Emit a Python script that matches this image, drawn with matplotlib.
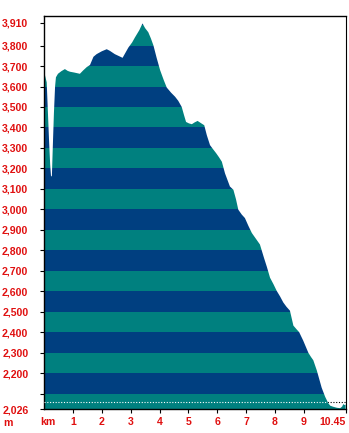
import matplotlib
matplotlib.use("Agg")
import matplotlib.pyplot as plt
from matplotlib.patches import Polygon

# profile: distance (km) and elevation (m)
km = [0.00, 0.03, 0.09, 0.13, 0.17, 0.21, 0.24, 0.27, 0.30, 0.34, 0.38, 0.41,
      0.48, 0.60, 0.72, 0.82, 0.90, 1.05, 1.24, 1.35, 1.48, 1.59, 1.71, 1.82,
      2.00, 2.17, 2.28, 2.45, 2.60, 2.72, 2.80, 2.92, 3.05, 3.15, 3.30, 3.41,
      3.50, 3.61, 3.70, 3.79, 3.90, 4.02, 4.15, 4.25, 4.40, 4.54, 4.65, 4.77,
      4.85, 4.92, 5.02, 5.12, 5.22, 5.32, 5.45, 5.55, 5.64, 5.75, 5.85, 5.96,
      6.06, 6.16, 6.27, 6.44, 6.56, 6.65, 6.73, 6.85, 6.96, 7.08, 7.20, 7.35,
      7.48, 7.62, 7.72, 7.83, 7.95, 8.06, 8.18, 8.29, 8.40, 8.52, 8.64, 8.75,
      8.84, 8.98, 9.16, 9.25, 9.33, 9.45, 9.55, 9.62, 9.74, 9.85, 9.92, 10.02,
      10.15, 10.26, 10.33, 10.37, 10.42, 10.45]
elev = [3662, 3655, 3620, 3480, 3340, 3220, 3160, 3165, 3300, 3470, 3600, 3645,
        3662, 3675, 3685, 3676, 3672, 3668, 3662, 3678, 3695, 3705, 3745, 3758,
        3772, 3782, 3774, 3758, 3748, 3740, 3760, 3790, 3815, 3840, 3875, 3908,
        3885, 3865, 3835, 3800, 3740, 3680, 3630, 3595, 3570, 3550, 3530, 3500,
        3460, 3427, 3420, 3416, 3425, 3432, 3420, 3411, 3362, 3314, 3295, 3275,
        3255, 3233, 3176, 3112, 3096, 3050, 2999, 2975, 2958, 2920, 2885, 2855,
        2829, 2764, 2720, 2667, 2635, 2603, 2575, 2546, 2525, 2506, 2433, 2415,
        2401, 2360, 2300, 2280, 2264, 2215, 2165, 2130, 2086, 2054, 2042, 2037,
        2032, 2030, 2038, 2050, 2045, 2048]

y_min, y_max = 2026, 3944
ytick_vals = [2026, 2100, 2200, 2300, 2400, 2500, 2600, 2700, 2800, 2900, 3000,
              3100, 3200, 3300, 3400, 3500, 3600, 3700, 3800, 3910]
ytick_labels = ["2,026", "", "2,200", "2,300", "2,400", "2,500", "2,600", "2,700",
                "2,800", "2,900", "3,000", "3,100", "3,200", "3,300", "3,400",
                "3,500", "3,600", "3,700", "3,800", "3,910"]
xtick_vals = [1, 2, 3, 4, 5, 6, 7, 8, 9, 10.45]
xtick_labels = ["1", "2", "3", "4", "5", "6", "7", "8", "9", "10.45"]
dotted_level = 2061

teal = "#00807f"
navy = "#003f80"
red = "#e01010"

plt.rcParams["font.family"] = ["Liberation Sans", "DejaVu Sans"]
plt.rcParams["font.weight"] = "bold"

fig = plt.figure(figsize=(3.49, 4.33), dpi=100)
ax = fig.add_axes([0.1264, 0.0554, 0.8639, 0.9076])
ax.set_xlim(0, 10.45)
ax.set_ylim(y_min, y_max)

# profile outline used as clip for the striped bands
verts = [(km[0], y_min)] + list(zip(km, elev)) + [(km[-1], y_min)]
shape = Polygon(verts, closed=True, facecolor="none", edgecolor="none")
ax.add_patch(shape)

ax.axhline(dotted_level, color="black", lw=0.8, ls=(0, (1, 1.5)), zorder=1)

for lo in range(2000, 4000, 100):
    c = teal if ((lo - 2000) // 100) % 2 == 0 else navy
    band = ax.axhspan(lo, lo + 100, color=c, lw=0, zorder=2)
    band.set_clip_path(shape)

inner = ax.axhline(dotted_level, color="white", lw=0.8, ls=(0, (1, 1.5)), zorder=3)
inner.set_clip_path(shape)

ax.set_yticks(ytick_vals)
ax.set_yticklabels(ytick_labels)
ax.set_xticks(xtick_vals)
ax.set_xticklabels(xtick_labels)
ax.tick_params(axis="both", direction="out", length=3, width=0.8, colors="black",
               labelcolor=red, labelsize=7.6)
ax.tick_params(axis="y", pad=8.3)
ax.tick_params(axis="x", pad=3)
ax.get_xticklabels()[-1].set_horizontalalignment("right")

for s in ["top", "left", "bottom"]:
    ax.spines[s].set_linewidth(1.0)
ax.spines["right"].set_linestyle((0, (1, 1)))
ax.spines["right"].set_linewidth(0.8)

ax.text(0.12, -0.033, "km", transform=ax.get_xaxis_transform(), color=red,
        fontsize=7.6, ha="center", va="center")
fig.text(0.024, 0.024, "m", color=red, fontsize=7.6, ha="center", va="center")

fig.savefig("out.png", dpi=100)
